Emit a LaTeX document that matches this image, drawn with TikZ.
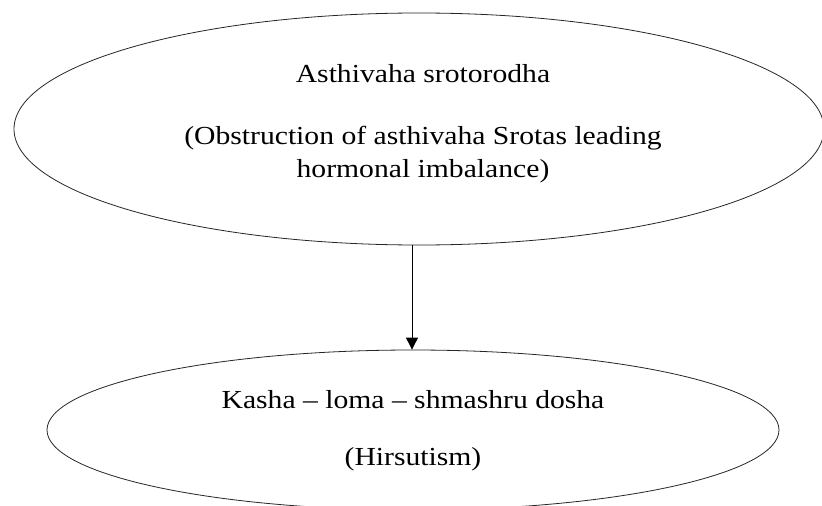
\documentclass[tikz,border=0pt]{standalone}
\usepackage{fontspec}
\setmainfont{Liberation Serif}[FakeStretch=1.14]
\usetikzlibrary{shapes.geometric,arrows.meta}
\begin{document}
\begin{tikzpicture}[x=1pt,y=-1pt,
  oval/.style={draw=black!85,line width=0.8pt,ellipse,inner sep=0pt},
  txt/.style={font=\fontsize{26}{33}\selectfont,inner sep=0pt,align=center,anchor=base},
  link/.style={line width=0.9pt,-{Triangle[length=12pt,width=12pt]}}]
\useasboundingbox (0,0) rectangle (822,506);
\fill[white] (0,0) rectangle (822,506);
\node[oval,minimum width=810pt,minimum height=232pt] (top) at (419,129) {};
\node[oval,minimum width=732pt,minimum height=160pt] (bot) at (413,430) {};
\node[txt] (t1) at (423,82) {Asthivaha srotorodha};
\node[txt] (t2) at (423,144) {(Obstruction of asthivaha Srotas leading};
\node[txt] (t3) at (423,177) {hormonal imbalance)};
\node[txt] (b1) at (413,408) {Kasha -- loma -- shmashru dosha};
\node[txt] (b2) at (413,465) {(Hirsutism)};
\draw[link] (top.south -| 412,0) -- (bot.north -| 412,0);
\end{tikzpicture}
\end{document}
